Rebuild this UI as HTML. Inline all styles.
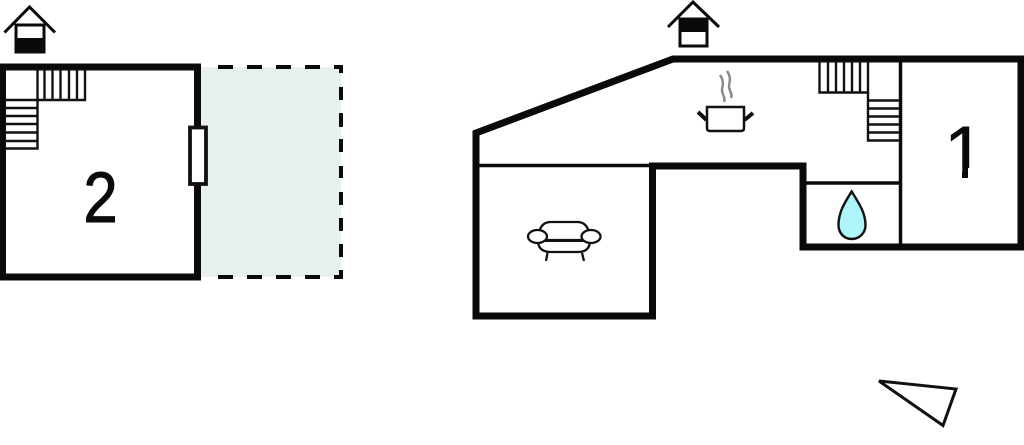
<!DOCTYPE html>
<html>
<head>
<meta charset="utf-8">
<style>
html,body{margin:0;padding:0;background:#fff;width:1024px;height:445px;overflow:hidden}
svg{display:block}
text{font-family:"Liberation Sans",sans-serif;fill:#0a0a0a;stroke:#0a0a0a}
</style>
</head>
<body>
<svg width="1024" height="445" viewBox="0 0 1024 445" xmlns="http://www.w3.org/2000/svg">
<defs>
<clipPath id="one"><path d="M930 120H990V168H968V178H962V168H930Z"/></clipPath>
</defs>
<rect width="1024" height="445" fill="#fff"/>

<!-- dashed terrace -->
<rect x="199" y="67" width="142" height="210" fill="#e8efef"/>
<g stroke="#0a0a0a" stroke-width="4" fill="none">
<path d="M218 67H233M247 67H262M276 67H291M305 67H320M334 67H341V73"/>
<path d="M218 277H233M247 277H262M276 277H291M305 277H320M334 277H341V270"/>
<path d="M341 87V100M341 113V127M341 139V152M341 166V178M341 192V205M341 218V231M341 244V257"/>
</g>

<!-- left building -->
<path d="M2.500 67H197.500V277H2.500Z" fill="#fff" stroke="#0a0a0a" stroke-width="7"/>
<rect x="190" y="127.500" width="16" height="56.500" fill="#fff" stroke="#111" stroke-width="3.800"/>
<g stroke="#111" stroke-width="2.400" fill="none">
<path d="M37.500 70V100H85V70M44.500 70V100M52.500 70V100M60.500 70V100M69 70V100M77 70V100"/>
<path d="M5 100H37.500V148.500H5M5 108H37.500M5 116H37.500M5 124H37.500M5 132.500H37.500M5 141H37.500"/>
</g>
<text transform="translate(100.500 222) scale(.87 1)" font-size="71" stroke-width="1" text-anchor="middle">2</text>

<!-- left house icon -->
<path d="M4.500 32.500L29.500 7L55 32.500" fill="none" stroke="#0a0a0a" stroke-width="3"/>
<rect x="16" y="25" width="28" height="27" fill="#fff" stroke="#0a0a0a" stroke-width="3"/>
<rect x="15" y="38" width="30" height="15" fill="#0a0a0a"/>

<!-- right house icon -->
<path d="M668 27L693 2L719 27" fill="none" stroke="#0a0a0a" stroke-width="3"/>
<rect x="680" y="19" width="27" height="27" fill="#fff" stroke="#0a0a0a" stroke-width="3"/>
<rect x="679" y="18" width="29" height="14" fill="#0a0a0a"/>

<!-- right building -->
<g fill="none" stroke="#0a0a0a" stroke-linejoin="miter">
<path d="M1021 59H673L476 133V316H652.500V166H803V247H1021Z" stroke-width="7"/>
<path d="M1021 56V250" stroke-width="7"/>
<path d="M476 165.500H652" stroke-width="3.500"/>
<path d="M806 183H900" stroke-width="3.500"/>
<path d="M900.500 60V245" stroke-width="3.500"/>
</g>
<g stroke="#111" stroke-width="2.400" fill="none">
<path d="M819.500 62V92.500H868V62M828 62V92M836 62V92M844 62V92M852 62V92M860 62V92"/>
<path d="M868 92.500V140.500H899M868 100.500H899M868 108.500H899M868 116.500H899M868 124.500H899M868 132.500H899"/>
</g>
<text x="964.400" y="178" font-size="74" stroke-width=".4" text-anchor="middle" clip-path="url(#one)">1</text>

<!-- steam and pot -->
<g fill="none" stroke="#8a8a8a" stroke-width="2.500">
<path d="M720 75C725 82 722 87 722 90C722 95 726 98 724 102"/>
<path d="M727 71C732 78 729 83 729 86C729 91 733 94 731 98"/>
</g>
<path d="M707 107H744V128Q744 131 741 131H710Q707 131 707 128Z" fill="#fff" stroke="#111" stroke-width="2.500"/>
<path d="M698 112L706.500 120M753 113L744.500 120" stroke="#111" stroke-width="4" fill="none"/>

<!-- sofa -->
<g fill="#fff" stroke="#111" stroke-width="2.300">
<path d="M539 233Q541 222 551 222H577Q587 222 589 233V242H539Z"/>
<path d="M538 242Q539 252 551 252H578Q589 252 590 242" />
<path d="M546 240H583" fill="none"/>
<ellipse cx="537.500" cy="236.500" rx="9.500" ry="6.500"/>
<ellipse cx="591" cy="236.500" rx="9.500" ry="6.500"/>
<path d="M547.500 253L546 261M582 253L584 261" fill="none"/>
</g>

<!-- water drop -->
<path d="M851.700 191.500C845 202 838.500 212 838.500 225C838.500 233 844 239 851.700 239C859.500 239 865.500 233 865.500 225C865.500 212 858 202 851.700 191.500Z" fill="#aef4fb" stroke="#111" stroke-width="2.400"/>

<!-- compass -->
<path d="M879 381L956 389L943 425.500Z" fill="#fff" stroke="#111" stroke-width="3" stroke-linejoin="miter"/>
</svg>
</body>
</html>
